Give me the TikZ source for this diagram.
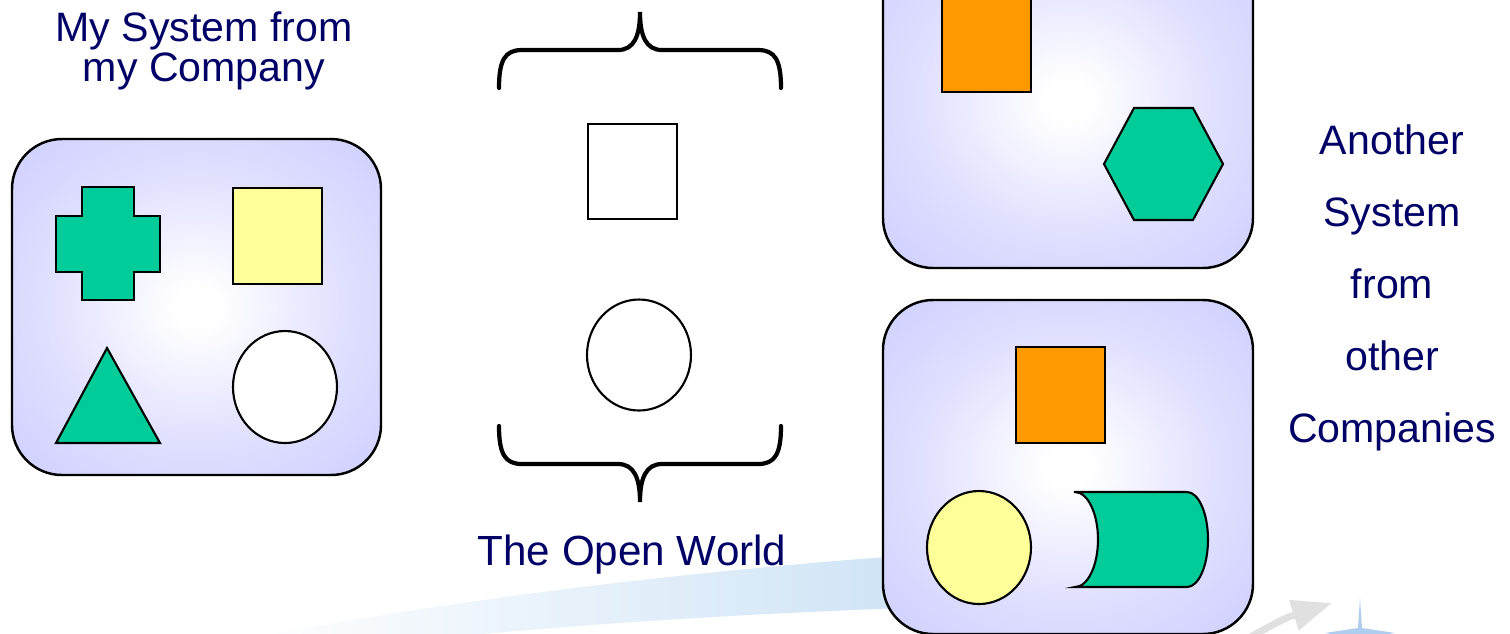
\documentclass[tikz,border=0pt]{standalone}
\usepackage{fontspec}
\setmainfont{Liberation Sans}
\usetikzlibrary{arrows.meta}
\definecolor{sysNavy}{RGB}{0,0,102}
\definecolor{sysLav}{RGB}{204,204,255}
\definecolor{sysMid}{RGB}{224,224,255}
\definecolor{sysGreen}{RGB}{0,204,153}
\definecolor{sysYellow}{RGB}{255,255,153}
\definecolor{sysOrange}{RGB}{255,153,0}
\definecolor{sysSwoosh}{RGB}{208,228,246}
\definecolor{sysStar}{RGB}{175,205,238}
\pgfdeclareradialshading{sysglow}{\pgfpoint{0bp}{0bp}}{color(0bp)=(white); color(3bp)=(white); color(20bp)=(sysMid); color(38bp)=(sysLav); color(50bp)=(sysLav)}
\tikzset{
  sysbox/.style={shading=sysglow, draw=black, line width=0.7pt, rounded corners=5mm},
  part/.style={draw=black, line width=0.6pt},
  systext/.style={text=sysNavy, align=center},
  bracket/.style={draw=black, line width=1.2pt, line cap=round}
}

\begin{document}
\begin{tikzpicture}[x=0.1mm, y=-0.1mm]
        \useasboundingbox (0,0) rectangle (1510,633);
        \clip (0,0) rectangle (1510,633);
        % slide background decoration
        \shade[left color=white, right color=sysSwoosh] (240,640) .. controls (450,600) and (680,572) .. (900,556) -- (900,608) .. controls (700,616) and (560,626) .. (420,640) -- cycle;
        \draw[line width=2pt, black!12, -{Triangle[length=4mm, width=3mm]}] (1245,640) .. controls (1285,618) .. (1332,603);
        \fill[sysStar] (1360,598) -- (1362,628) -- (1395,633) -- (1362,638) -- (1360,668) -- (1358,638) -- (1325,633) -- (1358,628) -- cycle;
        % my system
        \shadedraw[sysbox] (12,139) rectangle (381,475);
        \filldraw[part, fill=sysGreen] (82,187) -| (134,216) -| (160,272) -| (134,300) -| (82,272) -| (56,216) -| (82,187) -- cycle;
        \filldraw[part, fill=sysYellow] (233,188) rectangle (322,284);
        \filldraw[part, fill=sysGreen] (107,348) -- (160,443) -- (56,443) -- cycle;
        \filldraw[part, fill=white] (285,387) ellipse [x radius=52, y radius=56];
        \node[systext, font=\fontsize{11.7}{11.4}\selectfont] (mytitle) at (204,51) {My System from\\my Company};
        % open world
        \foreach \yb/\s in {50/1, 464/-1}
          \draw[bracket, shift={(640,\yb)}, yscale=\s] (-141,38) .. controls (-141,10) and (-135,0) .. (-118,0) -- (-22,0) .. controls (-6,0) and (0,-14) .. (0,-38) .. controls (0,-14) and (6,0) .. (22,0) -- (118,0) .. controls (135,0) and (141,10) .. (141,38);
        \filldraw[part, fill=white] (588,124) rectangle (677,219);
        \filldraw[part, fill=white] (639,355) ellipse [x radius=52, y radius=55.5];
        \node[systext, font=\fontsize{12}{14}\selectfont, anchor=base] (worldtitle) at (632,565) {The Open World};
        % other systems
        \shadedraw[sysbox] (883,-68) rectangle (1253,268);
        \filldraw[part, fill=sysOrange] (942,-10) rectangle (1031,92);
        \filldraw[part, fill=sysGreen] (1104,164) -- (1134,108) -- (1193,108) -- (1223,164) -- (1193,220) -- (1134,220) -- cycle;
        \shadedraw[sysbox] (883,300) rectangle (1253,634);
        \filldraw[part, fill=sysOrange] (1016,347) rectangle (1105,443);
        \filldraw[part, fill=sysYellow] (979,547.5) ellipse [x radius=52, y radius=56.5];
        \filldraw[part, fill=sysGreen] (1075,492) -- (1187,492) arc[start angle=-90, end angle=90, x radius=21, y radius=47.5] -- (1075,587) arc[start angle=90, end angle=-90, x radius=23, y radius=47.5] -- cycle;
        \node[systext, font=\fontsize{11.7}{20.5}\selectfont] (othertitle) at (1392,288) {Another\\System\\from\\other\\Companies};
      \end{tikzpicture}
\end{document}
